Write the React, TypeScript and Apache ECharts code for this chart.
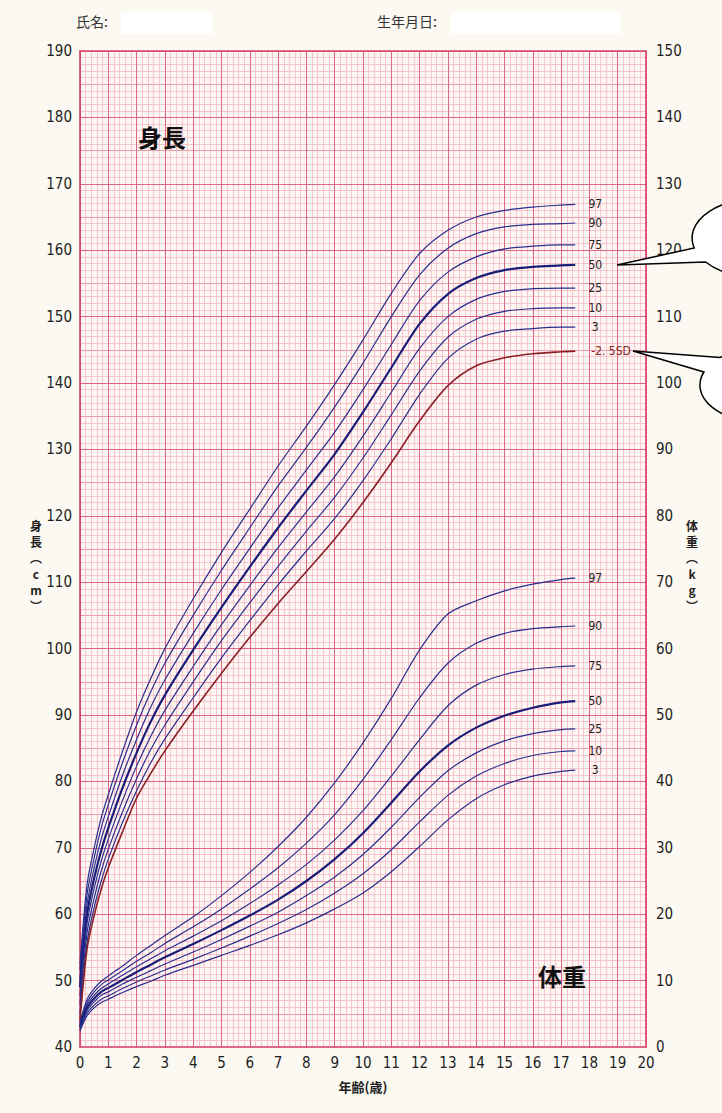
import React, { useEffect, useRef } from "react";
import * as echarts from "echarts";

// ---------- data ----------
const AGES = [0, 0.25, 0.5, 0.75, 1, 1.5, 2, 2.5, 3, 4, 5, 6, 7, 8, 9, 10, 11, 12, 13, 14, 15, 16, 17, 17.5];

const PERCENTILE_LABELS = ["97", "90", "75", "50", "25", "10", "3"];
const SD_LABEL = "-2. 5SD";

const HEIGHT_97 = [52.5, 64.5, 70.0, 74.5, 78.0, 84.5, 90.5, 95.5, 100.0, 107.5, 114.5, 121.0, 127.5, 133.5, 139.8, 146.5, 153.5, 159.5, 163.0, 165.0, 166.0, 166.5, 166.8, 166.9];
const HEIGHT_90 = [51.5, 63.0, 68.5, 73.0, 76.5, 82.8, 88.5, 93.5, 97.8, 105.0, 111.8, 118.2, 124.5, 130.3, 136.4, 143.0, 150.0, 156.3, 160.3, 162.5, 163.5, 163.9, 164.0, 164.1];
const HEIGHT_75 = [50.3, 61.5, 67.0, 71.3, 74.7, 80.9, 86.3, 91.2, 95.3, 102.3, 108.9, 115.1, 121.2, 126.9, 132.6, 139.0, 145.8, 152.4, 156.7, 159.0, 160.2, 160.6, 160.8, 160.8];
const HEIGHT_50 = [49.0, 60.0, 65.4, 69.6, 73.0, 79.0, 84.3, 89.0, 93.0, 99.8, 106.2, 112.3, 118.2, 123.8, 129.3, 135.6, 142.3, 148.9, 153.4, 155.8, 157.0, 157.5, 157.7, 157.8];
const HEIGHT_25 = [47.7, 58.6, 63.9, 68.0, 71.3, 77.1, 82.3, 86.8, 90.7, 97.3, 103.6, 109.5, 115.2, 120.6, 125.9, 132.0, 138.6, 145.2, 150.0, 152.6, 153.8, 154.2, 154.3, 154.3];
const HEIGHT_10 = [46.4, 57.2, 62.4, 66.5, 69.8, 75.4, 80.4, 84.8, 88.5, 95.0, 101.2, 106.9, 112.4, 117.7, 122.8, 128.7, 135.2, 141.8, 146.9, 149.6, 150.8, 151.2, 151.3, 151.3];
const HEIGHT_3 = [45.0, 55.8, 61.0, 65.0, 68.3, 73.8, 78.6, 82.8, 86.4, 92.6, 98.6, 104.2, 109.6, 114.7, 119.6, 125.3, 131.6, 138.3, 143.7, 146.6, 147.8, 148.2, 148.4, 148.4];
const HEIGHT_SD = [44.0, 54.8, 59.8, 63.8, 67.0, 72.4, 77.5, 81.2, 84.6, 90.6, 96.3, 101.7, 106.8, 111.6, 116.5, 122.0, 128.0, 134.3, 139.6, 142.6, 143.8, 144.4, 144.7, 144.8];

const WEIGHT_97 = [3.7, 7.2, 8.8, 9.9, 10.7, 12.2, 13.8, 15.3, 16.8, 19.6, 22.8, 26.3, 30.2, 34.6, 39.8, 45.8, 52.5, 59.8, 65.2, 67.2, 68.7, 69.7, 70.4, 70.6];
const WEIGHT_90 = [3.5, 6.7, 8.3, 9.4, 10.1, 11.5, 12.9, 14.2, 15.6, 18.1, 20.8, 23.8, 27.0, 30.7, 35.0, 40.3, 46.3, 52.6, 57.8, 60.8, 62.3, 63.0, 63.3, 63.4];
const WEIGHT_75 = [3.25, 6.3, 7.8, 8.8, 9.5, 10.8, 12.1, 13.3, 14.5, 16.7, 19.0, 21.6, 24.4, 27.5, 31.2, 35.6, 40.8, 46.3, 51.4, 54.5, 56.1, 56.9, 57.3, 57.4];
const WEIGHT_50 = [3.0, 5.9, 7.3, 8.3, 8.9, 10.1, 11.3, 12.4, 13.5, 15.5, 17.6, 19.8, 22.2, 25.0, 28.3, 32.2, 36.8, 41.5, 45.4, 48.1, 49.9, 51.1, 51.9, 52.1];
const WEIGHT_25 = [2.85, 5.5, 6.8, 7.8, 8.3, 9.5, 10.5, 11.5, 12.5, 14.3, 16.2, 18.2, 20.3, 22.8, 25.6, 29.0, 33.1, 37.6, 41.6, 44.3, 46.1, 47.2, 47.8, 47.9];
const WEIGHT_10 = [2.6, 5.1, 6.3, 7.2, 7.7, 8.8, 9.8, 10.7, 11.6, 13.2, 14.9, 16.7, 18.6, 20.7, 23.2, 26.1, 29.7, 33.9, 37.9, 40.8, 42.7, 43.9, 44.5, 44.6];
const WEIGHT_3 = [2.4, 4.7, 5.9, 6.7, 7.2, 8.2, 9.1, 9.9, 10.8, 12.3, 13.8, 15.3, 16.9, 18.7, 20.8, 23.2, 26.4, 30.2, 34.2, 37.4, 39.5, 40.8, 41.5, 41.7];

const HEIGHTS = [HEIGHT_97, HEIGHT_90, HEIGHT_75, HEIGHT_50, HEIGHT_25, HEIGHT_10, HEIGHT_3];
const WEIGHTS = [WEIGHT_97, WEIGHT_90, WEIGHT_75, WEIGHT_50, WEIGHT_25, WEIGHT_10, WEIGHT_3];

// ---------- styles ----------
const NUM_FONT = "'Liberation Sans Narrow', 'DejaVu Sans Condensed', 'Roboto', sans-serif";
const JP_FONT = "'Noto Sans CJK JP', 'Noto Sans CJK SC', sans-serif";
const PAGE_BG = "#fbf9f1";
const PLOT_BG = "#fdf6f2";
const BORDER = "#d8436a";
const MAJOR = "#dd6585";
const MEDIUM = "#e88ea4";
const MINOR = "#f3b3c2";
const BLUE = "#2a2f8e";
const BLUE_DARK = "#1a1d78";
const RED = "#8a1f24";
const TEXT = "#1e1e1e";

echarts.graphic.registerShape(
  "callout1",
  echarts.graphic.extendPath("M617 265 L694.2 248 A68 40 0 1 1 705.6 262 Z", {})
);
echarts.graphic.registerShape(
  "callout2",
  echarts.graphic.extendPath("M633 351 L720 357.6 A65 38 0 1 1 703.9 372 Z", {})
);

function lineSeries(label: string, values: number[], yAxisIndex: number, color: string, width: number, labelColor: string, isSD = false) {
  return {
    type: "line",
    name: label,
    yAxisIndex,
    data: AGES.map((a, i) => [a, values[i]]),
    smooth: 0.3,
    showSymbol: false,
    symbol: "none",
    silent: true,
    z: 5,
    lineStyle: { color, width },
    endLabel: {
      show: true,
      formatter: label,
      align: isSD ? "left" : "center",
      distance: isSD ? 16 : 20,
      color: labelColor,
      fontSize: 12,
      fontFamily: NUM_FONT,
    },
  };
}

function verticalTitle(chars: string[], x: number) {
  return chars.map((c, i) => ({
    type: "text",
    x,
    y: 525 + i * 16,
    z: 10,
    style: {
      text: c,
      fontFamily: JP_FONT,
      fontSize: 12,
      fontWeight: "bold",
      fill: TEXT,
      align: "center",
      verticalAlign: "middle",
    },
  }));
}

export default function App() {
  const ref = useRef<HTMLDivElement>(null);

  useEffect(() => {
    document.body.style.margin = "0";
    document.body.style.background = PAGE_BG;
    if (!ref.current) return;
    const chart = echarts.init(ref.current, undefined, { renderer: "svg" });

    const series: any[] = [];
    PERCENTILE_LABELS.forEach((lab, i) => {
      const is50 = lab === "50";
      series.push(lineSeries(lab, HEIGHTS[i], 0, is50 ? BLUE_DARK : BLUE, is50 ? 2.2 : 1.2, TEXT));
    });
    series.push(lineSeries(SD_LABEL, HEIGHT_SD, 0, RED, 1.6, RED, true));
    PERCENTILE_LABELS.forEach((lab, i) => {
      const is50 = lab === "50";
      series.push(lineSeries(lab, WEIGHTS[i], 1, is50 ? BLUE_DARK : BLUE, is50 ? 2.2 : 1.2, TEXT));
    });

    const numLabel = { fontSize: 15, fontFamily: NUM_FONT, color: TEXT };

    chart.setOption({
      animation: false,
      backgroundColor: PAGE_BG,
      grid: {
        left: 80,
        right: 76,
        top: 51,
        bottom: 66,
        show: true,
        backgroundColor: PLOT_BG,
        borderWidth: 0,
      },
      xAxis: [
        {
          type: "value",
          min: 0,
          max: 20,
          interval: 1,
          position: "bottom",
          name: "年齢(歳)",
          nameLocation: "middle",
          nameGap: 33,
          nameTextStyle: { fontFamily: JP_FONT, fontSize: 13, fontWeight: "bold", color: TEXT },
          axisLine: { show: true, onZero: false, lineStyle: { color: BORDER, width: 1.6 } },
          axisTick: { show: false },
          axisLabel: { ...numLabel, margin: 8 },
          splitLine: { show: true, lineStyle: { color: MAJOR, width: 1 } },
          minorTick: { show: false, splitNumber: 5 },
          minorSplitLine: { show: true, lineStyle: { color: MINOR, width: 0.7 } },
          z: 2,
        },
        {
          type: "value",
          min: 0,
          max: 20,
          position: "top",
          axisLine: { show: true, onZero: false, lineStyle: { color: BORDER, width: 1.6 } },
          axisTick: { show: false },
          axisLabel: { show: false },
          splitLine: { show: false },
          z: 4,
        },
      ],
      yAxis: [
        {
          type: "value",
          min: 40,
          max: 190,
          interval: 10,
          position: "left",
          axisLine: { show: true, onZero: false, lineStyle: { color: BORDER, width: 1.6 } },
          axisTick: { show: false },
          axisLabel: { ...numLabel, margin: 8 },
          splitLine: { show: true, lineStyle: { color: MAJOR, width: 1 } },
          z: 3,
        },
        {
          type: "value",
          min: 0,
          max: 150,
          interval: 10,
          position: "right",
          axisLine: { show: true, onZero: false, lineStyle: { color: BORDER, width: 1.6 } },
          axisTick: { show: false },
          axisLabel: { ...numLabel, margin: 10 },
          splitLine: { show: false },
          z: 3,
        },
        {
          type: "value",
          min: 40,
          max: 190,
          interval: 1,
          position: "left",
          axisLine: { show: false },
          axisTick: { show: false },
          axisLabel: { show: false },
          splitLine: { show: true, lineStyle: { color: MINOR, width: 0.7 } },
          z: 1,
        },
        {
          type: "value",
          min: 40,
          max: 190,
          interval: 5,
          position: "left",
          axisLine: { show: false },
          axisTick: { show: false },
          axisLabel: { show: false },
          splitLine: { show: true, lineStyle: { color: MEDIUM, width: 0.8 } },
          z: 2,
        },
      ],
      series,
      graphic: [
        { type: "text", left: 76, top: 14, z: 10, style: { text: "氏名:", fontFamily: JP_FONT, fontSize: 14, fill: "#333" } },
        { type: "rect", z: 10, shape: { x: 121, y: 12, width: 91, height: 22 }, style: { fill: "#ffffff" } },
        { type: "text", left: 377, top: 14, z: 10, style: { text: "生年月日:", fontFamily: JP_FONT, fontSize: 14, fill: "#333" } },
        { type: "rect", z: 10, shape: { x: 451, y: 12, width: 169, height: 22 }, style: { fill: "#ffffff" } },
        { type: "text", x: 162, y: 136, z: 10, style: { text: "身長", fontFamily: JP_FONT, fontSize: 24, fontWeight: "bold", fill: "#111", align: "center", verticalAlign: "middle" } },
        { type: "text", x: 562, y: 975, z: 10, style: { text: "体重", fontFamily: JP_FONT, fontSize: 24, fontWeight: "bold", fill: "#111", align: "center", verticalAlign: "middle" } },
        ...verticalTitle(["身", "長", "︵", "c", "m", "︶"], 36),
        ...verticalTitle(["体", "重", "︵", "k", "g", "︶"], 692),
        { type: "callout1", x: 0, y: 0, z: 20, style: { fill: "#ffffff", stroke: "#000000", lineWidth: 1.5 } },
        { type: "callout2", x: 0, y: 0, z: 20, style: { fill: "#ffffff", stroke: "#000000", lineWidth: 1.5 } },
      ],
    });

    return () => chart.dispose();
  }, []);

  return <div ref={ref} style={{ width: 722, height: 1113 }} />;
}
